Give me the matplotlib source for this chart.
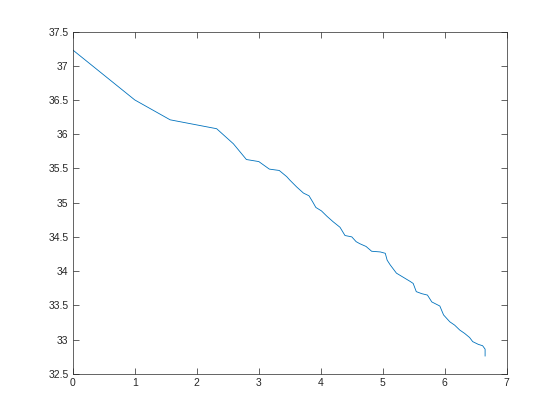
import matplotlib
matplotlib.use("Agg")
import matplotlib.pyplot as plt

x = [0.0, 1.0, 1.57, 2.32, 2.59, 2.80, 3.0, 3.17, 3.33, 3.45, 3.50, 3.61, 3.72, 3.81,
     3.87, 3.92, 4.01, 4.10, 4.20, 4.31, 4.35, 4.39, 4.50, 4.57, 4.63, 4.73, 4.82,
     4.96, 5.04, 5.07, 5.12, 5.22, 5.33, 5.44, 5.49, 5.54, 5.63, 5.72, 5.79, 5.92,
     5.98, 6.08, 6.16, 6.24, 6.32, 6.40, 6.45, 6.54, 6.61, 6.65, 6.65]
y = [37.23, 36.50, 36.21, 36.08, 35.86, 35.63, 35.60, 35.49, 35.47, 35.38, 35.33, 35.23,
     35.14, 35.10, 35.01, 34.93, 34.88, 34.80, 34.72, 34.64, 34.58, 34.52, 34.50, 34.43,
     34.40, 34.36, 34.29, 34.28, 34.26, 34.16, 34.09, 33.97, 33.91, 33.85, 33.82, 33.70,
     33.67, 33.65, 33.55, 33.49, 33.36, 33.26, 33.21, 33.14, 33.09, 33.03, 32.97, 32.93,
     32.91, 32.86, 32.76]

xticks = [0, 1, 2, 3, 4, 5, 6, 7]
yticks = [32.5, 33, 33.5, 34, 34.5, 35, 35.5, 36, 36.5, 37, 37.5]
ytick_labels = ["32.5", "33", "33.5", "34", "34.5", "35", "35.5", "36", "36.5", "37", "37.5"]

plt.rcParams['font.family'] = ['Liberation Sans', 'DejaVu Sans']
fig = plt.figure(figsize=(5.6, 4.2), dpi=100)
ax = fig.add_axes([0.13, 0.11, 0.775, 0.815])
ax.plot(x, y, color='#0072BD', linewidth=0.6)
ax.set_xlim(0, 7)
ax.set_ylim(32.5, 37.5)
ax.set_xticks(xticks)
ax.set_yticks(yticks)
ax.set_yticklabels(ytick_labels)
ax.tick_params(direction='in', top=True, right=True, length=4, width=0.5,
               labelsize=7.5, colors='#262626', pad=3)
for s in ax.spines.values():
    s.set_linewidth(0.5)
    s.set_color('#262626')
fig.savefig('out.png', dpi=100)
